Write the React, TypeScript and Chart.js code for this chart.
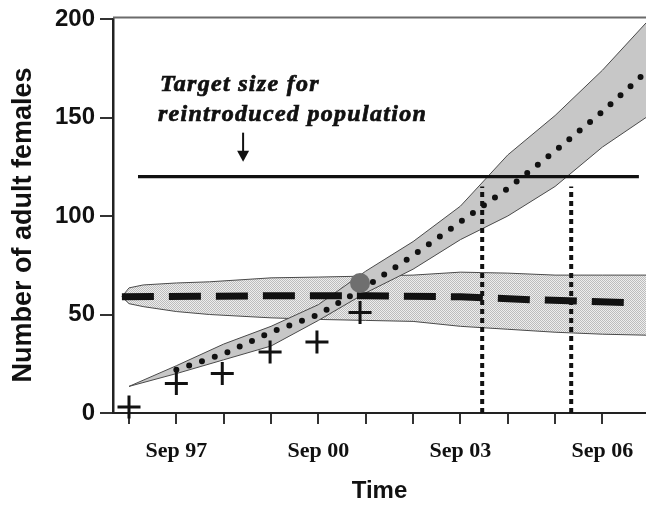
import React, { useEffect, useRef } from "react";
import { Chart, registerables } from "chart.js";

Chart.register(...registerables);

// ---- axis ticks ----
const xTickValues = [0, 1, 2, 3, 4, 5, 6, 7, 8, 9, 10];
const xTickLabels = ["", "Sep 97", "", "", "Sep 00", "", "", "Sep 03", "", "", "Sep 06"];
const yTickValues = [0, 50, 100, 150, 200];
const xTitle = "Time";
const yTitle = "Number of adult females";

// ---- observed counts (crosses) ----
const observedX = [0, 1, 1.97, 2.98, 3.97, 4.88];
const observedY = [3, 15, 20, 31, 36, 51];

// ---- source (captive) population projection with band ----
const sourceX = [-0.15, 0, 0.3, 1, 1.7, 3, 4, 5, 6, 7, 8, 9, 10, 10.92];
const sourceUpper = [59, 63.5, 65, 66, 66.6, 68.6, 69, 69.5, 70, 71.5, 71, 70, 70, 70];
const sourceLower = [59, 55.5, 54, 51.5, 50, 48.3, 47.5, 47, 46.5, 44, 42.5, 41, 40, 39.5];
const sourceMeanX = [-0.15, 3, 5, 7, 8.5, 10.63];
const sourceMeanY = [59, 59.5, 59.5, 59, 57.5, 56];

// ---- reintroduced population projection with band ----
const growthX = [0, 1, 2, 3, 4, 5, 6, 7, 8, 9, 10, 10.92];
const growthUpper = [13.5, 24, 35, 44, 55, 72, 87, 105, 131, 151, 174, 198];
const growthLower = [13.5, 20, 27, 34, 47, 61, 73, 88, 100, 115, 135, 150];
const growthMeanX = [1, 2, 3, 4, 5, 6, 7, 8, 9, 10, 10.92];
const growthMeanY = [22, 30, 41, 50, 64, 80, 97, 114, 133, 153, 173];

// ---- target line and crossing times ----
const targetX = [0.19, 10.77];
const targetY = [120, 120];
const crossingX = [7.46, 9.34];
const crossingY = [0, 115];

// ---- highlighted point ----
const meetingX = [4.88];
const meetingY = [66];

// ---- annotation ----
const annotationText = ["Target size for", "reintroduced population"];
const annotationX = [0.655, 0.61];
const annotationY = [163.2, 148];
const arrowX = 2.41;
const arrowFromY = 142.3;
const arrowToY = 127.6;

const pts = (xs: number[], ys: number[]) => xs.map((x, i) => ({ x, y: ys[i] }));

const annotatePlugin = {
  id: "annotate",
  afterDatasetsDraw(chart: any) {
    const { ctx, chartArea } = chart;
    const xs = chart.scales.x;
    const ys = chart.scales.y;
    ctx.save();
    // top frame line
    ctx.strokeStyle = "#6b6b6b";
    ctx.lineWidth = 2;
    ctx.beginPath();
    ctx.moveTo(chartArea.left, chartArea.top - 1.5);
    ctx.lineTo(chartArea.right, chartArea.top - 1.5);
    ctx.stroke();

    // annotation text
    ctx.fillStyle = "#111";
    ctx.strokeStyle = "#111";
    ctx.lineWidth = 0.7;
    ctx.font = 'italic bold 24px "Liberation Serif"';
    (ctx as any).letterSpacing = "1.3px";
    ctx.textAlign = "left";
    ctx.textBaseline = "alphabetic";
    annotationText.forEach((t, i) => {
      const px = xs.getPixelForValue(annotationX[i]);
      const py = ys.getPixelForValue(annotationY[i]);
      ctx.fillText(t, px, py);
      ctx.strokeText(t, px, py);
    });
    (ctx as any).letterSpacing = "0px";

    // arrow
    const ax = xs.getPixelForValue(arrowX);
    const a1 = ys.getPixelForValue(arrowFromY);
    const a2 = ys.getPixelForValue(arrowToY);
    ctx.lineWidth = 2;
    ctx.beginPath();
    ctx.moveTo(ax, a1);
    ctx.lineTo(ax, a2 - 8);
    ctx.stroke();
    ctx.beginPath();
    ctx.moveTo(ax - 6, a2 - 11);
    ctx.lineTo(ax + 6, a2 - 11);
    ctx.lineTo(ax, a2);
    ctx.closePath();
    ctx.fill();

    // y axis title
    ctx.translate(23.5, 225);
    ctx.rotate(-Math.PI / 2);
    ctx.font = 'bold 27px "Liberation Sans"';
    ctx.textAlign = "center";
    ctx.textBaseline = "middle";
    ctx.fillText(yTitle, 0, 0);
    ctx.restore();
  },
};

function makeStipple(): CanvasPattern | string {
  const c = document.createElement("canvas");
  c.width = 2;
  c.height = 2;
  const g = c.getContext("2d");
  if (!g) return "#d4d4d4";
  g.fillStyle = "#ededed";
  g.fillRect(0, 0, 2, 2);
  g.fillStyle = "#bcbcbc";
  g.fillRect(0, 0, 1, 1);
  g.fillRect(1, 1, 1, 1);
  const p = g.createPattern(c, "repeat");
  return p || "#d4d4d4";
}

export default function App() {
  const ref = useRef<HTMLCanvasElement | null>(null);

  useEffect(() => {
    if (!ref.current) return;
    const stipple = makeStipple();
    const edge = { pointRadius: 0, showLine: true, borderWidth: 1, borderColor: "#4a4a4a", tension: 0 };
    const chart = new Chart(ref.current, {
      type: "scatter",
      data: {
        datasets: [
          { ...edge, data: pts(sourceX, sourceUpper), fill: "+1", backgroundColor: stipple as any, order: 20 },
          { ...edge, data: pts(sourceX, sourceLower), fill: false, order: 19 },
          { ...edge, data: pts(growthX, growthUpper), fill: "+1", backgroundColor: "#c7c7c7", order: 18 },
          { ...edge, data: pts(growthX, growthLower), fill: false, order: 17 },
          {
            data: pts(sourceMeanX, sourceMeanY), showLine: true, pointRadius: 0,
            borderColor: "#111", borderWidth: 7, borderDash: [32, 15], order: 16,
          },
          {
            data: pts(growthMeanX, growthMeanY), showLine: true, pointRadius: 0,
            borderColor: "#111", borderWidth: 6, borderDash: [0, 13.5], borderCapStyle: "round", order: 15,
          },
          {
            data: pts(targetX, targetY), showLine: true, pointRadius: 0,
            borderColor: "#111", borderWidth: 3.3, order: 14,
          },
          {
            data: pts([crossingX[0], crossingX[0]], crossingY), showLine: true, pointRadius: 0,
            borderColor: "#111", borderWidth: 4, borderDash: [5, 4], order: 13,
          },
          {
            data: pts([crossingX[1], crossingX[1]], crossingY), showLine: true, pointRadius: 0,
            borderColor: "#111", borderWidth: 4, borderDash: [5, 4], order: 12,
          },
          {
            data: pts(observedX, observedY), pointStyle: "cross", pointRadius: 11.5,
            borderColor: "#111", borderWidth: 3, order: 11, clip: false as any,
          },
          {
            data: pts(meetingX, meetingY), pointRadius: 10, backgroundColor: "#6f6f6f",
            borderWidth: 0, order: 10,
          },
        ] as any,
      },
      options: {
        animation: false,
        responsive: false,
        events: [],
        layout: { autoPadding: false, padding: { top: 19, left: 0, right: 0, bottom: 0 } },
        plugins: { legend: { display: false }, tooltip: { enabled: false } },
        scales: {
          x: {
            type: "linear",
            min: -0.338,
            max: 10.92,
            afterBuildTicks: (s: any) => { s.ticks = xTickValues.map((v) => ({ value: v })); },
            afterFit: (s: any) => { s.height = 93; s.paddingLeft = 0; s.paddingRight = 0; },
            ticks: {
              autoSkip: false, maxRotation: 0, padding: 14, color: "#111",
              font: { family: '"Liberation Serif", serif', weight: "bold", size: 22 },
              callback: (_v: any, i: number) => xTickLabels[i],
            },
            grid: { drawOnChartArea: false, drawTicks: true, tickLength: 11, color: "#333", lineWidth: 2 },
            border: { display: true, color: "#222", width: 2 },
            title: {
              display: true, text: xTitle, color: "#111",
              font: { family: '"Liberation Sans", Arial', weight: "bold", size: 24 },
              padding: { top: 0, bottom: 0 },
            },
          },
          y: {
            type: "linear",
            min: 0,
            max: 200,
            afterBuildTicks: (s: any) => { s.ticks = yTickValues.map((v) => ({ value: v })); },
            afterFit: (s: any) => { s.width = 113; s.paddingTop = 0; s.paddingBottom = 0; },
            ticks: {
              padding: 5, color: "#111",
              font: { family: '"Liberation Sans", Arial', weight: "bold", size: 24 },
            },
            grid: { drawOnChartArea: false, drawTicks: true, tickLength: 13, color: "#333", lineWidth: 2 },
            border: { display: true, color: "#222", width: 2.5 },
          },
        },
      } as any,
      plugins: [annotatePlugin],
    });
    return () => chart.destroy();
  }, []);

  return (
    <div style={{ position: "fixed", left: 0, top: 0, width: 646, height: 506, background: "#fff" }}>
      <canvas ref={ref} width={646} height={506} style={{ width: 646, height: 506 }} />
    </div>
  );
}
